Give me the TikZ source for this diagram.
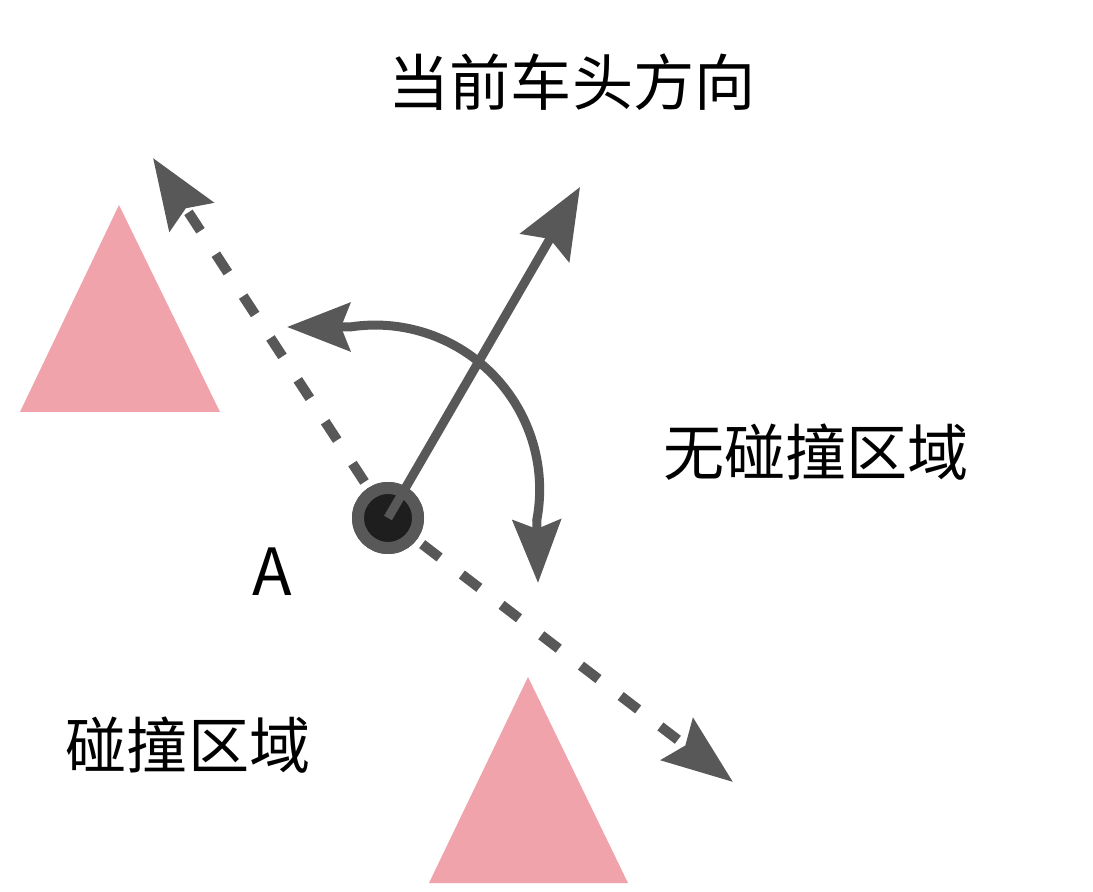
\documentclass[tikz,border=0pt]{standalone}
\usepackage{fontspec}
\setmainfont{Noto Sans CJK SC}
\usetikzlibrary{arrows.meta}
\definecolor{arrowgray}{HTML}{585858}
\definecolor{dotblack}{HTML}{1E1E1E}
\definecolor{conepink}{HTML}{F0A3AB}

\begin{document}
\begin{tikzpicture}[x=0.1mm, y=-0.1mm,
        zonetext/.style={font=\fontsize{17.4pt}{20pt}\selectfont, inner sep=0pt},
        car/.style={circle, fill=dotblack, draw=arrowgray, line width=1.2mm, minimum size=6mm, inner sep=0pt},
        cone/.style={fill=conepink},
        heading/.style={draw=arrowgray, line width=0.9mm, -{Stealth[length=7mm, width=5.6mm, inset=1mm]}},
        sweep/.style={draw=arrowgray, line width=0.9mm, {Stealth[length=6.3mm, width=4.8mm, inset=0.9mm]}-{Stealth[length=6.3mm, width=4.8mm, inset=0.9mm]}},
        dashpath/.style={draw=arrowgray, line width=1mm, dash pattern=on 2.2mm off 2.8mm, dash phase=0.7mm, -{Stealth[length=7mm, width=5.2mm, inset=1mm]}}
    ]
        \useasboundingbox (0,0) rectangle (1093,892);

        % cones
        \fill[cone] (119,205) -- (20,412) -- (220,412) -- cycle;
        \fill[cone] (528,677) -- (429,883) -- (628,883) -- cycle;

        \coordinate (pathU) at (153,158);
        \coordinate (pathD) at (733,782);
        \coordinate (head) at (580,187);
        \coordinate (sweepL) at (287,327);
        \coordinate (sweepA) at (350,327);
        \coordinate (sweepR) at (538,583);

        \node[car] (car) at (388,518) {};

        \draw[dashpath] (car.center) -- (pathU);
        \draw[dashpath] (car.center) -- (pathD);
        \node[car] at (car) {};
        \draw[heading] (car.center) -- (head);
        \draw[sweep] (sweepL) -- (sweepA) arc[start angle=98.8, end angle=-10.8, radius=16.45mm] -- (sweepR);

        \node[zonetext] (title) at (572,82) {当前车头方向};
        \node[zonetext] (safe) at (816,452) {无碰撞区域};
        \node[zonetext] (danger) at (188,745) {碰撞区域};
        \node[zonetext, font=\fontsize{18.5pt}{20pt}\selectfont] (labA) at (272,572) {A};
    \end{tikzpicture}
\end{document}
